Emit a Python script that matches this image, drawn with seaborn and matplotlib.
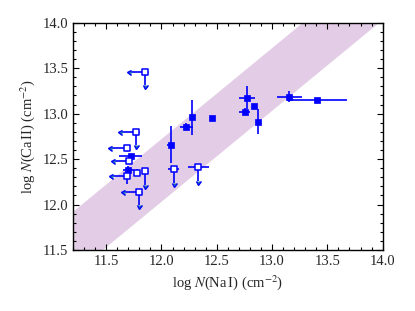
import numpy as np
import pandas as pd
import seaborn as sns
import matplotlib.pyplot as plt
from matplotlib.ticker import MultipleLocator

# detections (filled squares)
na_det = [11.72, 11.70, 12.083, 12.224, 12.279, 12.459, 12.751, 12.775, 12.839, 12.869, 13.157, 13.404]
ca_det = [12.53, 12.38, 12.66, 12.857, 12.96, 12.956, 13.02, 13.176, 13.088, 12.912, 13.187, 13.147]
na_det_err = [0.10, 0.05, 0.03, 0.06, 0.02, 0.02, 0.05, 0.07, 0.0, 0.0, 0.11, 0.27]
ca_det_err = [0.02, 0.04, 0.20, 0.04, 0.19, 0.02, 0.04, 0.13, 0.0, 0.14, 0.06, 0.02]

# upper limits (open squares)
na_lim = [11.854, 11.773, 11.685, 11.706, 11.69, 11.78, 11.854, 11.796, 12.11, 12.333]
ca_lim = [13.46, 12.80, 12.62, 12.48, 12.31, 12.35, 12.37, 12.14, 12.39, 12.41]
na_is_lim = [True, True, True, True, True, False, False, True, False, False]
ca_is_lim = [True, True, False, False, False, False, True, True, True, True]
na_lim_err = [0, 0, 0, 0, 0, 0.03, 0, 0, 0.05, 0.095]
ca_lim_err = [0, 0, 0, 0, 0.08, 0.04, 0, 0, 0, 0]

# shaded relation band: log N(CaII) = log N(NaI) + offset
band_lo, band_hi = 0.03, 0.72

xlim = (11.2, 14.0)
ylim = (11.5, 14.0)
blue = "#0000ff"

sns.set_style("ticks")
plt.rcParams["font.family"] = ["Liberation Serif", "DejaVu Serif"]
plt.rcParams["mathtext.fontset"] = "stix"
plt.rcParams["font.size"] = 10

fig = plt.figure(figsize=(4.15, 3.11), dpi=100)
ax = fig.add_axes([0.176, 0.196, 0.746, 0.731])

xb = np.array(xlim)
ax.fill_between(xb, xb + band_lo, xb + band_hi, color="#e3cde6", lw=0, zorder=0)

det = pd.DataFrame({"na": na_det, "ca": ca_det, "xe": na_det_err, "ye": ca_det_err})
lim = pd.DataFrame({"na": na_lim, "ca": ca_lim, "xl": na_is_lim, "yl": ca_is_lim,
                    "xe": na_lim_err, "ye": ca_lim_err})

# error bars on detections
ax.errorbar(det["na"], det["ca"], xerr=det["xe"], yerr=det["ye"], fmt="none",
            ecolor=blue, elinewidth=1.2, capsize=0, zorder=2)

# ordinary error bars on limit points
ax.errorbar(lim["na"], lim["ca"], xerr=lim["xe"], yerr=lim["ye"], fmt="none",
            ecolor=blue, elinewidth=1.2, capsize=0, zorder=2)

# arrows for upper limits
xl = lim[lim["xl"]]
ax.errorbar(xl["na"], xl["ca"], xerr=0.13, xuplims=True, fmt="none",
            ecolor=blue, elinewidth=1.2, capsize=1.8, zorder=2)
yl = lim[lim["yl"]]
ax.errorbar(yl["na"], yl["ca"], yerr=0.15, uplims=True, fmt="none",
            ecolor=blue, elinewidth=1.2, capsize=1.8, zorder=2)

sns.scatterplot(data=det, x="na", y="ca", marker="s", s=22, color=blue,
                edgecolor=blue, linewidth=0.5, ax=ax, zorder=3)
sns.scatterplot(data=lim, x="na", y="ca", marker="s", s=18, color="white",
                edgecolor=blue, linewidth=1.1, ax=ax, zorder=3)

ax.set_xlim(*xlim)
ax.set_ylim(*ylim)
ax.xaxis.set_major_locator(MultipleLocator(0.5))
ax.yaxis.set_major_locator(MultipleLocator(0.5))
ax.xaxis.set_minor_locator(MultipleLocator(0.1))
ax.yaxis.set_minor_locator(MultipleLocator(0.1))
ax.xaxis.set_major_formatter(lambda v, p: f"{v:.1f}")
ax.yaxis.set_major_formatter(lambda v, p: f"{v:.1f}")
ax.tick_params(which="both", direction="in", top=True, right=True, color="black",
               labelsize=10.5, width=0.8)
ax.tick_params(which="major", length=4)
ax.tick_params(which="minor", length=2)
for s in ax.spines.values():
    s.set_linewidth(1.0)
    s.set_color("black")

ax.set_xlabel(r"log $N$(Na$\,$I) (cm$^{-2}$)", fontsize=10.5)
ax.set_ylabel(r"log $N$(Ca$\,$II) (cm$^{-2}$)", fontsize=10.5)

fig.savefig("out.png", dpi=100)
